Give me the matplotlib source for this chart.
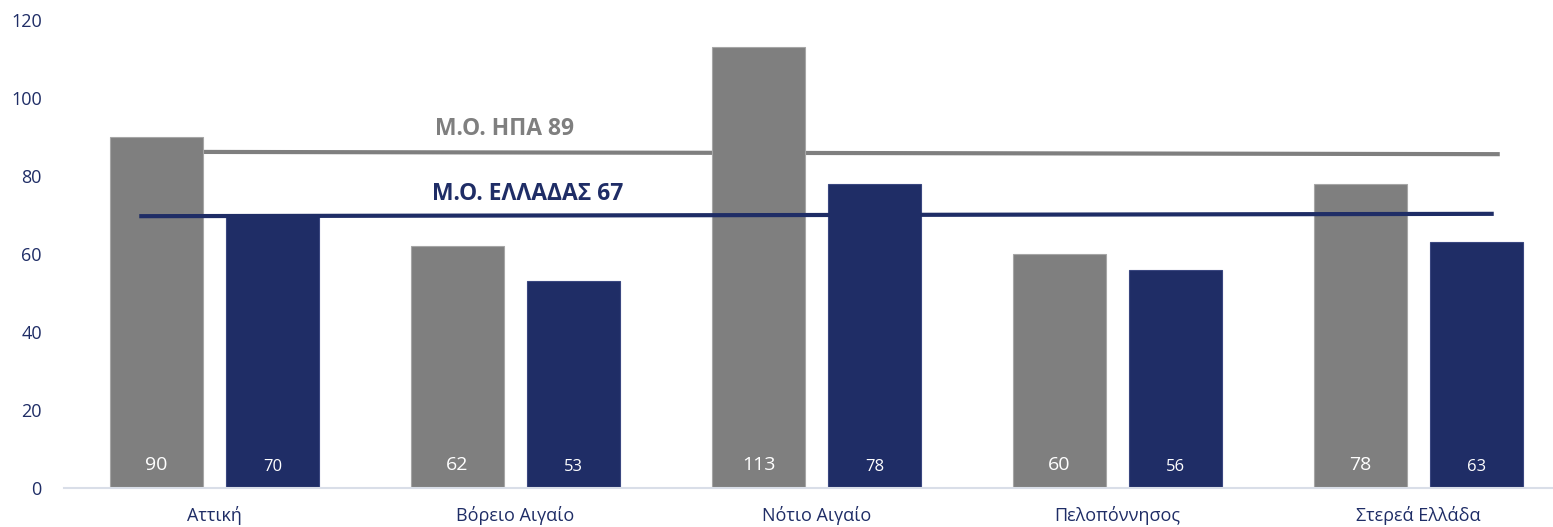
import numpy as np
import matplotlib.pyplot as plt

# data
regions = ["Αττική", "Βόρειο Αιγαίο", "Νότιο Αιγαίο", "Πελοπόννησος", "Στερεά Ελλάδα"]
usa_vals = [90, 62, 113, 60, 78]
gr_vals = [70, 53, 78, 56, 63]
usa_line = [86.2, 85.6]      # line level at left / right end
gr_line = [69.7, 70.3]
usa_label = "Μ.Ο. ΗΠΑ 89"
gr_label = "Μ.Ο. ΕΛΛΑΔΑΣ 67"

GREY = "#7F7F7F"
NAVY = "#1F2D66"

plt.rcParams['font.family'] = ['Open Sans', 'DejaVu Sans']

fig = plt.figure(figsize=(15.53, 5.27), dpi=100)
# axes: x from px 64 to 1553, y from px 20 (120) to 488 (0)
ax = fig.add_axes([64 / 1553, (527 - 488) / 527, (1553 - 64) / 1553, (488 - 20) / 527])

x = np.arange(len(regions))
w = 0.309
off = 0.193

ax.bar(x - off, usa_vals, w, color=GREY, edgecolor="#A6A6A6", linewidth=0.8, zorder=2)
ax.bar(x + off, gr_vals, w, color=NAVY, edgecolor="#3A4780", linewidth=0.8, zorder=2)

for xi, v in zip(x, usa_vals):
    ax.text(xi - off, 6, str(v), color="white", ha="center", va="center", fontsize=14, zorder=4)
for xi, v in zip(x, gr_vals):
    ax.text(xi + off, 5.5, str(v), color="white", ha="center", va="center", fontsize=12, zorder=4)

# average lines
ax.plot([-0.25, 4.27], usa_line, color=GREY, lw=3, zorder=1, solid_capstyle="butt")
ax.plot([-0.25, 4.25], gr_line, color=NAVY, lw=3, zorder=3, solid_capstyle="butt")

ax.text(0.733, 92, usa_label, color=GREY, fontsize=16.5, fontweight="bold", ha="left", va="center")
ax.text(0.723, 75.5, gr_label, color=NAVY, fontsize=16.5, fontweight="bold", ha="left", va="center")

ax.set_xlim(-0.5, (1553 - 214.5) / 301)
ax.set_ylim(0, 120)
ax.set_yticks(np.arange(0, 121, 20))
ax.set_xticks(x)
ax.set_xticklabels(regions)
ax.tick_params(axis="both", length=0, colors=NAVY, labelsize=13)
ax.tick_params(axis="y", pad=16)
ax.tick_params(axis="x", pad=13)

for s in ["top", "right", "left"]:
    ax.spines[s].set_visible(False)
ax.spines["bottom"].set_color("#D9DEE8")
ax.spines["bottom"].set_linewidth(1.5)

fig.savefig("out.png", dpi=100)
